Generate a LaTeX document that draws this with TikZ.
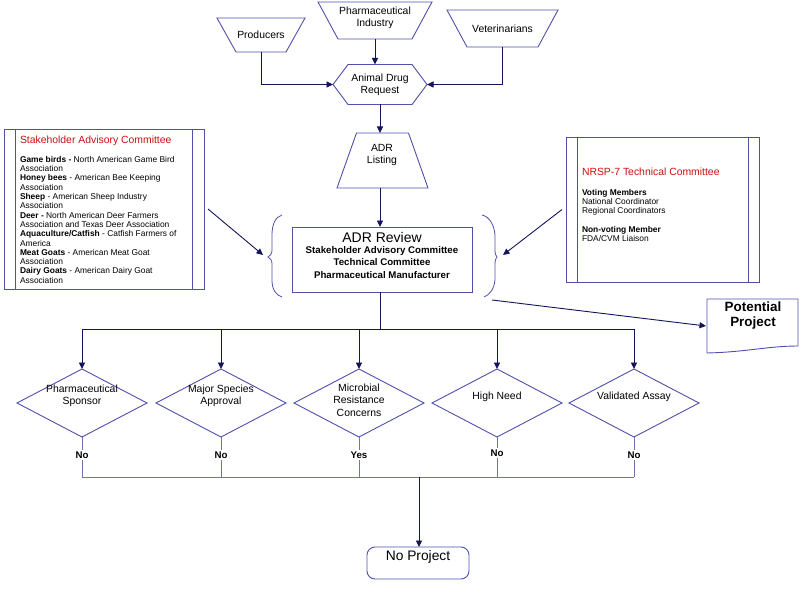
\documentclass[tikz,border=0pt]{standalone}
\usepackage{fontspec}
\setmainfont{Liberation Sans}
\usetikzlibrary{arrows.meta,shapes.geometric,calc}
\definecolor{shp}{RGB}{80,80,170}
\definecolor{nav}{RGB}{20,20,90}
\definecolor{pale}{RGB}{115,115,170}
\definecolor{rd}{RGB}{200,16,16}
\begin{document}
\begin{tikzpicture}[x=1pt,y=-1pt,
  every node/.style={inner sep=0pt, outer sep=0pt},
  txt/.style={font=\fontsize{10.4}{12.3}\selectfont, align=center},
  outl/.style={draw=shp, line width=0.9pt},
  arr/.style={draw=nav, line width=0.9pt, -{Triangle[length=6.5pt,width=6pt]}},
  conn/.style={draw=nav, line width=0.9pt},
  paleln/.style={draw=pale, line width=1pt},
  dec/.style={diamond, draw=shp, line width=0.9pt, minimum width=130pt, minimum height=68pt},
  nolbl/.style={font=\fontsize{9.7}{11}\selectfont\bfseries, inner sep=2pt},
  smalltxt/.style={font=\fontsize{8.4}{9.3}\selectfont, align=left, anchor=north west},
  ttl/.style={font=\fontsize{10.4}{12}\selectfont, text=rd, anchor=base west}]
\fill[white] (0,0) rectangle (800,596);
\useasboundingbox (0,0) rectangle (800,596);

% --- top sources ---
\node[txt, minimum width=88pt, minimum height=34pt] (prod) at (261,35) {Producers};
\draw[outl] (prod.north west) -- (prod.north east) -- ([xshift=-19pt]prod.south east) -- ([xshift=19pt]prod.south west) -- cycle;

\node[minimum width=114pt, minimum height=37pt] (pharm) at (375,20.5) {};
\draw[outl] (pharm.north west) -- (pharm.north east) -- ([xshift=-20pt]pharm.south east) -- ([xshift=20pt]pharm.south west) -- cycle;
\node[txt] (pharmT) at (375,17.5) {Pharmaceutical\\Industry};

\node[txt, minimum width=111pt, minimum height=37pt] (vet) at (502.5,28.5) {Veterinarians};
\draw[outl] (vet.north west) -- (vet.north east) -- ([xshift=-20pt]vet.south east) -- ([xshift=20pt]vet.south west) -- cycle;

% --- hexagon ---
\node[txt, minimum width=94pt, minimum height=40pt] (hex) at (380,84.5) {Animal Drug\\Request};
\draw[outl] (hex.west) -- ([xshift=15pt]hex.north west) -- ([xshift=-15pt]hex.north east) -- (hex.east) -- ([xshift=-15pt]hex.south east) -- ([xshift=15pt]hex.south west) -- cycle;

% --- ADR listing ---
\node[minimum width=91pt, minimum height=55pt] (lst) at (382.5,160.5) {};
\draw[outl] ([xshift=19.5pt]lst.north west) -- ([xshift=-19.5pt]lst.north east) -- (lst.south east) -- (lst.south west) -- cycle;
\node[txt] (lstT) at (382,155) {ADR\\Listing};

% --- ADR review ---
\node[outl, minimum width=180pt, minimum height=65pt] (rev) at (382,259.5) {};
\node[font=\fontsize{14}{15}\selectfont] (revT) at (382,237.5) {ADR Review};
\node[font=\fontsize{9.7}{12.3}\selectfont\bfseries, align=center] (revS) at (382,262.5) {Stakeholder Advisory Committee\\Technical Committee\\Pharmaceutical Manufacturer};

% braces
\draw[draw=shp, line width=0.8pt] (282,215) .. controls (275,217) and (272,225) .. (272,235) -- (272,250) .. controls (272,254) and (270,256) .. (268,257) .. controls (270,258) and (272,260) .. (272,264) -- (272,280) .. controls (272,290) and (276,295) .. (282,297);
\draw[draw=shp, line width=0.8pt] (482,215) .. controls (490,217) and (494,225) .. (495,235) -- (495,250) .. controls (495,254) and (496,256) .. (497,257) .. controls (496,258) and (495,260) .. (495,264) -- (495,280) .. controls (494,290) and (489,295) .. (484,297);
\coordinate (lb) at (263,255);
\coordinate (rb) at (503,255);

% --- stakeholder box ---
\node[outl, minimum width=200pt, minimum height=160pt] (sac) at (104,209) {};
\draw[outl] ([xshift=11pt]sac.north west) -- ([xshift=11pt]sac.south west);
\draw[outl] ([xshift=-12pt]sac.north east) -- ([xshift=-12pt]sac.south east);
\node[ttl] (sacT) at (20,143.6) {Stakeholder Advisory Committee};
\node[smalltxt] (sacB) at (20,156.3) {\textbf{Game birds -} North American Game Bird\\Association\\\textbf{Honey bees} - American Bee Keeping\\Association\\\textbf{Sheep} - American Sheep Industry\\Association\\\textbf{Deer -} North American Deer Farmers\\Association and Texas Deer Association\\\textbf{Aquaculture/Catfish} - Catfish Farmers of\\America\\\textbf{Meat Goats} - American Meat Goat\\Association\\\textbf{Dairy Goats} - American Dairy Goat\\Association};

% --- NRSP box ---
\node[outl, minimum width=193pt, minimum height=145pt] (nrsp) at (662.5,209.5) {};
\draw[outl] ([xshift=11pt]nrsp.north west) -- ([xshift=11pt]nrsp.south west);
\draw[outl] ([xshift=-11pt]nrsp.north east) -- ([xshift=-11pt]nrsp.south east);
\node[ttl] (nrspT) at (582,175.6) {NRSP-7 Technical Committee};
\node[smalltxt] (nrspB) at (582,189.3) {\textbf{Voting Members}\\National Coordinator\\Regional Coordinators\\[9.3pt]\textbf{Non-voting Member}\\FDA/CVM Liaison};

% --- potential project ---
\node[minimum width=91pt, minimum height=54pt] (pp) at (752.5,326) {};
\draw[outl] (pp.south west) -- (pp.north west) -- (pp.north east) -- ([yshift=7pt]pp.south east) .. controls ([xshift=-30pt,yshift=7pt]pp.south east) and ([xshift=40pt,yshift=1pt]pp.south west) .. (pp.south west);
\node[font=\fontsize{13.4}{15}\selectfont\bfseries, align=center] (ppT) at (753,315.5) {Potential\\Project};

% --- diamonds ---
\node[dec] (d1) at (82,403) {};
\node[dec] (d2) at (221,403) {};
\node[dec] (d3) at (359,403) {};
\node[dec] (d4) at (497,403) {};
\node[dec] (d5) at (634,403) {};
\node[txt] (d1T) at (82,396) {Pharmaceutical\\Sponsor};
\node[txt] (d2T) at (221,395.5) {Major Species\\Approval};
\node[txt] (d3T) at (359,400) {Microbial\\Resistance\\Concerns};
\node[txt] (d4T) at (497,397) {High Need};
\node[txt] (d5T) at (634,397) {Validated Assay};

% --- labels under diamonds ---
\node[nolbl] (n1) at (82,455) {No};
\node[nolbl] (n2) at (221,455) {No};
\node[nolbl] (n3) at (359,455) {Yes};
\node[nolbl] (n4) at (497,453) {No};
\node[nolbl] (n5) at (634,455) {No};

% --- no project ---
\node[outl, rounded corners=8pt, minimum width=102pt, minimum height=32pt] (np) at (418,563) {};
\node[font=\fontsize{13.8}{15}\selectfont] (npT) at (418,557) {No Project};

% --- connectors ---
\draw[arr] (prod.south) |- (hex.west);
\draw[arr] (vet.south) |- (hex.east);
\draw[arr] (pharm.south) -- (pharm.south |- hex.north);
\draw[arr] (hex.south) -- (hex.south |- lst.north);
\draw[arr] (lst.south -| hex.south) -- (hex.south |- rev.north);
\draw[arr] ([xshift=4pt]sac.east) -- (lb);
\draw[arr] ([xshift=-4pt]nrsp.west) -- (rb);
\coordinate (ps) at (492,300);
\draw[arr] (ps) -- ([xshift=-1pt]pp.west);

\coordinate (bra) at (380,329);
\draw[conn] (hex.south |- rev.south) -- (bra);
\draw[conn] (d1.north |- bra) -- (d5.north |- bra);
\foreach \d in {d1,d2,d3,d4,d5}{
  \draw[arr] (\d.north |- bra) -- (\d.north);
}
\coordinate (bot) at (419,477);
\foreach \d/\n in {d1/n1,d2/n2,d3/n3,d4/n4,d5/n5}{
  \draw[paleln] (\d.south) -- (\n.north);
  \draw[paleln] (\n.south) -- (\n.south |- bot);
}
\draw[paleln] (n1.south |- bot) -- (n5.south |- bot);
\draw[arr] (bot) -- (bot |- np.north);
\end{tikzpicture}
\end{document}
